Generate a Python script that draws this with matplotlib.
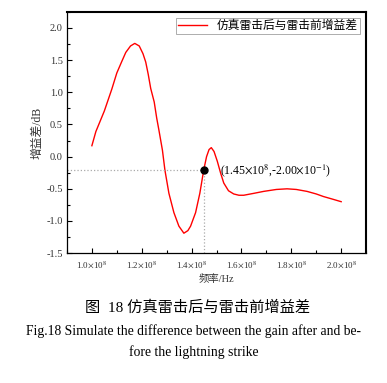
import numpy as np
import matplotlib.pyplot as plt
from matplotlib.ticker import MultipleLocator, FuncFormatter

plt.rcParams['font.family'] = ['Liberation Serif', 'Noto Sans CJK SC']
plt.rcParams['mathtext.fontset'] = 'stix'

# frequency in units of 1e8 Hz, gain difference in dB
freq = [1.000, 1.016, 1.050, 1.080, 1.100, 1.120, 1.136, 1.155, 1.172, 1.190,
        1.205, 1.216, 1.226, 1.236, 1.250, 1.260, 1.269, 1.283, 1.293, 1.309,
        1.329, 1.349, 1.369, 1.385, 1.396, 1.416, 1.433, 1.449, 1.460, 1.470,
        1.479, 1.490, 1.503, 1.516, 1.529, 1.548, 1.569, 1.590, 1.609, 1.650,
        1.689, 1.740, 1.783, 1.820, 1.863, 1.900, 1.929, 1.965, 2.000]
gain_diff = [0.17, 0.39, 0.71, 1.05, 1.30, 1.48, 1.62, 1.72, 1.76, 1.72,
             1.60, 1.47, 1.28, 1.06, 0.85, 0.60, 0.41, 0.10, -0.21, -0.57,
             -0.87, -1.08, -1.19, -1.15, -1.08, -0.87, -0.57, -0.20, 0.00, 0.11,
             0.14, 0.08, -0.07, -0.25, -0.41, -0.53, -0.58, -0.60, -0.60, -0.57,
             -0.54, -0.51, -0.50, -0.51, -0.54, -0.58, -0.62, -0.66, -0.70]

mark_x = 1.45e8
mark_y = -0.2
legend_label = '仿真雷击后与雷击前增益差'

x = np.array(freq) * 1e8
y = np.array(gain_diff)

fig = plt.figure(figsize=(3.87, 3.83), dpi=100)
ax = fig.add_axes([0.173, 0.339, 0.773, 0.630])

ax.plot(x, y, color='red', lw=1.0, label=legend_label)

# marker with dotted guide lines
ax.plot([0.9e8, mark_x], [mark_y, mark_y], ls=':', color='#aaaaaa', lw=0.9)
ax.plot([mark_x, mark_x], [-1.5, mark_y], ls=':', color='#aaaaaa', lw=0.9)
ax.plot(mark_x, mark_y, 'o', color='black', ms=5)
ax.text(mark_x + 0.065e8, mark_y - 0.02,
        r'(1.45$\times$10$^{8}$,-2.00$\times$10$^{-1}$)',
        fontsize=8.5, va='center', ha='left')

ax.set_xlim(0.9e8, 2.1e8)
ax.set_ylim(-1.5, 2.25)
ax.xaxis.set_major_locator(MultipleLocator(0.2e8))
ax.xaxis.set_minor_locator(MultipleLocator(0.1e8))
ax.yaxis.set_major_locator(MultipleLocator(0.5))
ax.yaxis.set_minor_locator(MultipleLocator(0.25))
ax.xaxis.set_major_formatter(FuncFormatter(lambda v, p: r'%.1f$\times$10$^{8}$' % (v / 1e8)))
ax.yaxis.set_major_formatter(FuncFormatter(lambda v, p: '%.1f' % v))
ax.tick_params(which='both', direction='in', top=False, right=False)
ax.tick_params(which='major', length=3.5, width=0.8)
ax.tick_params(which='minor', length=2, width=0.8)
ax.tick_params(axis='x', labelsize=6.5, pad=4, labelcolor='#333333')
ax.tick_params(axis='y', labelsize=7.5, pad=3, labelcolor='#333333')

for s in ['left', 'bottom']:
    ax.spines[s].set_linewidth(0.9)
for s in ['top', 'right']:
    ax.spines[s].set_linewidth(1.5)

ax.set_xlabel('频率/Hz', fontsize=7.5, labelpad=3, color='#333333')
ax.set_ylabel('增益差/dB', fontsize=8.5, labelpad=2, color='#333333')

leg = ax.legend(loc='upper right', fontsize=8.5, frameon=True, fancybox=False,
                handlelength=2.5, borderpad=0.2, borderaxespad=0.5)
leg.get_frame().set_edgecolor('#888888')
leg.get_frame().set_linewidth(0.6)

fig.text(0.51, 0.198, '图  18 仿真雷击后与雷击前增益差', fontsize=11,
         ha='center', va='center')
fig.text(0.5, 0.135, 'Fig.18 Simulate the difference between the gain after and be-',
         fontsize=9.8, ha='center', va='center')
fig.text(0.5, 0.08, 'fore the lightning strike', fontsize=9.8,
         ha='center', va='center')

fig.savefig('out.png', dpi=100)
